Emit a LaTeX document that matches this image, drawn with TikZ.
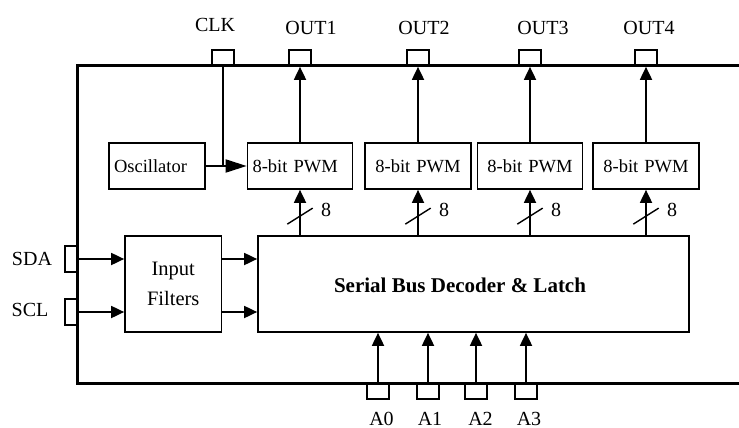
\documentclass[tikz,border=0pt]{standalone}
\usepackage{fontspec}
\setmainfont{Liberation Serif}
\usetikzlibrary{arrows.meta,calc}
\begin{document}
\begin{tikzpicture}[x=1pt,y=1pt,
  blk/.style={draw,line width=1.7pt,inner ysep=0pt,inner xsep=5pt,minimum height=46pt,font=\fontsize{18.5}{22}\selectfont},
  bigblk/.style={draw,line width=1.7pt,inner sep=0pt,minimum height=96pt},
  pinbox/.style={draw,line width=1.7pt,fill=white,inner sep=0pt,minimum width=21.5pt,minimum height=16pt},
  sidepin/.style={draw,line width=1.7pt,fill=white,inner sep=0pt,minimum width=12pt,minimum height=26pt},
  pinlbl/.style={inner sep=0pt,font=\fontsize{20}{24}\selectfont},
  arr/.style={line width=1.8pt,-{Triangle[length=13pt,width=12pt]}},
  longarr/.style={line width=1.8pt,-{Triangle[length=21pt,width=13pt]}},
  wire/.style={line width=1.8pt},
  slashline/.style={line width=1.4pt},
  chip/.style={line width=3pt}
]
\useasboundingbox (0,0) rectangle (739,-428);

% pins
\node[pinbox] (clk) at (223,-58) {};
\node[pinbox] (out1) at (300,-58) {};
\node[pinbox] (out2) at (418,-58) {};
\node[pinbox] (out3) at (530,-58) {};
\node[pinbox] (out4) at (646,-58) {};
\node[sidepin] (sda) at (71,-259) {};
\node[sidepin] (scl) at (71,-312) {};
\node[pinbox] (a0) at (378,-391) {};
\node[pinbox] (a1) at (428,-391) {};
\node[pinbox] (a2) at (476,-391) {};
\node[pinbox] (a3) at (526,-391) {};

% chip outline
\draw[chip] (739,-65.5) -- (77,-65.5) -- (77,-383) -- (739,-383);

% pin labels
\node[pinlbl] (clkl) at (215,-24.5) {CLK};
\node[pinlbl] (out1l) at (311,-28) {OUT1};
\node[pinlbl] (out2l) at (424,-28) {OUT2};
\node[pinlbl] (out3l) at (543,-28) {OUT3};
\node[pinlbl] (out4l) at (649,-28) {OUT4};
\node[pinlbl] (sdal) at (32,-258.7) {SDA};
\node[pinlbl] (scll) at (30,-310) {SCL};
\node[pinlbl] (a0l) at (381.5,-418.5) {A0};
\node[pinlbl] (a1l) at (430,-418.5) {A1};
\node[pinlbl] (a2l) at (480.5,-418.5) {A2};
\node[pinlbl] (a3l) at (529,-418.5) {A3};

% blocks
\node[blk,text width=86pt,align=left] (osc) at (157,-166) {Oscillator};
\node[blk,text width=95pt,align=left] (pwm1) at (300,-166) {8-bit PWM};
\node[blk,text width=96pt,align=center] (pwm2) at (418,-166) {8-bit PWM};
\node[blk,text width=95pt,align=center] (pwm3) at (530,-166) {8-bit PWM};
\node[blk,text width=96pt,align=center] (pwm4) at (646,-166) {8-bit PWM};
\node[bigblk,minimum width=96.5pt,align=center,font=\fontsize{20.5}{29.5}\selectfont] (filt) at (173.25,-283.7) {Input\\Filters};
\node[bigblk,minimum width=431pt] (serial) at (473.5,-284) {};
\node[inner sep=0pt,font=\bfseries\fontsize{21}{25}\selectfont] (serialtxt) at (460,-285) {Serial Bus Decoder \& Latch};

% connectors
\draw[arr] (sda.east) -- (sda.east -| filt.west);
\draw[arr] (scl.east) -- (scl.east -| filt.west);
\draw[arr] (filt.east |- sda.east) -- (serial.west |- sda.east);
\draw[arr] (filt.east |- scl.east) -- (serial.west |- scl.east);

\draw[longarr] (osc.east) -- (pwm1.west);
\draw[wire] (clk.south) -- (clk.south |- pwm1.west);

\foreach \i in {1,2,3,4}{
  \draw[arr] (pwm\i.north) -- (out\i.south);
  \draw[arr] (pwm\i.south |- serial.north) -- (pwm\i.south) coordinate[pos=0.42] (m\i);
  \draw[slashline] ($(m\i)+(-12.7,-8)$) -- ($(m\i)+(12.7,8)$);
  \node[pinlbl] (w\i) at ($(m\i)+(26,5.8)$) {8};
}

\foreach \i in {0,1,2,3}{
  \draw[arr] (a\i.north) -- (a\i.north |- serial.south);
}
\end{tikzpicture}
\end{document}
